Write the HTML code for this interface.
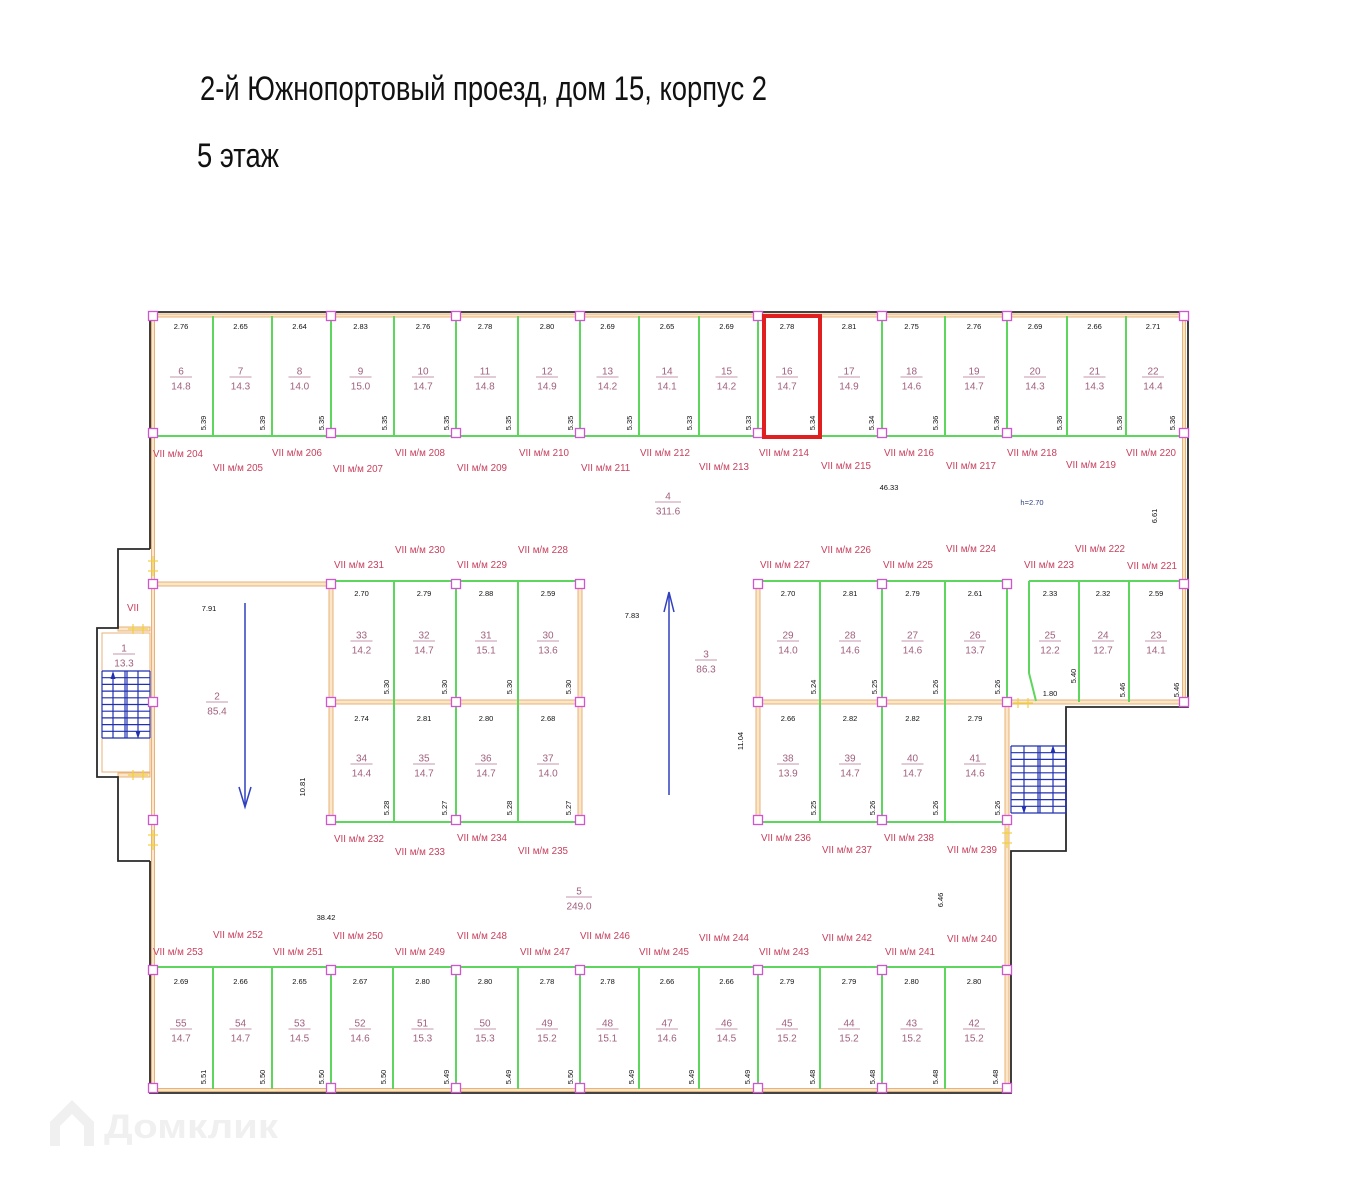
<!DOCTYPE html>
<html><head><meta charset="utf-8">
<style>
html,body{margin:0;padding:0;background:#fff;}
svg{display:block;}
.d{font-family:"Liberation Sans",sans-serif;font-size:7.5px;fill:#111;text-anchor:middle;}
.n{font-family:"Liberation Sans",sans-serif;font-size:10px;fill:#a0607e;text-anchor:middle;}
.v{font-family:"Liberation Sans",sans-serif;font-size:9.8px;fill:#c8405e;}
.u{stroke:#b07090;stroke-width:0.8;}
.g{stroke:#5cd65c;stroke-width:2;fill:none;}
.o{fill:#fce6c8;stroke:#e8b27a;stroke-width:1;}
.sq{fill:#fff;stroke:#d055d0;stroke-width:1.3;}
.k{stroke:#2a2a2a;stroke-width:1.8;fill:none;}
.b{stroke:#2030b0;stroke-width:1.2;fill:none;}
.y{stroke:#f0d040;stroke-width:1.2;}
</style></head>
<body>
<svg width="1367" height="1179" viewBox="0 0 1367 1179" xmlns="http://www.w3.org/2000/svg">
<rect width="1367" height="1179" fill="#fff"/>

<!-- titles -->
<text x="200" y="100" font-family="Liberation Sans, sans-serif" font-size="34" fill="#111" textLength="567" lengthAdjust="spacingAndGlyphs">2-й Южнопортовый проезд, дом 15, корпус 2</text>
<text x="197" y="167" font-family="Liberation Sans, sans-serif" font-size="34" fill="#111" textLength="82" lengthAdjust="spacingAndGlyphs">5 этаж</text>

<!-- watermark -->
<g fill="#f0f0f0" stroke="none">
<path d="M50 1122 L72 1100 L94 1122 L94 1146 L84 1146 L84 1126 L72 1114 L60 1126 L60 1146 L50 1146 Z"/>
<text x="104" y="1138" font-family="Liberation Sans, sans-serif" font-size="34" font-weight="bold" textLength="174" lengthAdjust="spacingAndGlyphs">Домклик</text>
</g>

<!-- orange walls -->
<rect class="o" x="151.5" y="314" width="1034" height="3"/>
<rect class="o" x="151.5" y="314" width="3" height="777"/>
<rect class="o" x="1182.5" y="314" width="3" height="390"/>
<rect class="o" x="151.5" y="1088.5" width="857" height="3"/>
<rect class="o" x="1005" y="702" width="4" height="388"/>
<rect class="o" x="153" y="582" width="178" height="4"/>
<rect class="o" x="329" y="584" width="4" height="236"/>
<rect class="o" x="331" y="700" width="249" height="4"/>
<rect class="o" x="578" y="584" width="4" height="236"/>
<rect class="o" x="756" y="584" width="4" height="236"/>
<rect class="o" x="758" y="700" width="426" height="4"/>
<rect x="102" y="633" width="48" height="139" fill="none" stroke="#e8b27a" stroke-width="1"/>
<rect class="o" x="118" y="627" width="32" height="4"/>
<rect class="o" x="118" y="773" width="32" height="4"/>

<!-- black outline -->
<polyline class="k" points="150,549 150,312 1188,312 1188,707 1066,707 1066,851 1011,851 1011,1093 150,1093 150,861"/>
<polyline class="k" points="150,549 118,549 118,628 97,628 97,777 118,777 118,861 150,861"/>

<!-- green lines top row -->
<g class="g">
<line x1="153" y1="436" x2="1184" y2="436"/>
<line x1="213" y1="316" x2="213" y2="436"/><line x1="272" y1="316" x2="272" y2="436"/>
<line x1="331" y1="316" x2="331" y2="436"/><line x1="394" y1="316" x2="394" y2="436"/>
<line x1="456" y1="316" x2="456" y2="436"/><line x1="518" y1="316" x2="518" y2="436"/>
<line x1="580" y1="316" x2="580" y2="436"/><line x1="639" y1="316" x2="639" y2="436"/>
<line x1="699" y1="316" x2="699" y2="436"/><line x1="758" y1="316" x2="758" y2="436"/>
<line x1="820" y1="316" x2="820" y2="436"/><line x1="882" y1="316" x2="882" y2="436"/>
<line x1="945" y1="316" x2="945" y2="436"/><line x1="1007" y1="316" x2="1007" y2="436"/>
<line x1="1067" y1="316" x2="1067" y2="436"/><line x1="1126" y1="316" x2="1126" y2="436"/>
<!-- block A -->
<line x1="331" y1="581" x2="580" y2="581"/><line x1="331" y1="822" x2="580" y2="822"/>
<line x1="394" y1="581" x2="394" y2="822"/><line x1="456" y1="581" x2="456" y2="822"/><line x1="518" y1="581" x2="518" y2="822"/>
<!-- block B -->
<line x1="758" y1="581" x2="1007" y2="581"/><line x1="758" y1="822" x2="1007" y2="822"/>
<line x1="820" y1="581" x2="820" y2="822"/><line x1="882" y1="581" x2="882" y2="822"/><line x1="945" y1="581" x2="945" y2="822"/>
<line x1="1007" y1="581" x2="1007" y2="702"/>
<!-- right group -->
<line x1="1029" y1="581" x2="1184" y2="581"/>
<polyline points="1029,581 1029,673 1036,701"/>
<line x1="1079" y1="581" x2="1079" y2="702"/><line x1="1129" y1="581" x2="1129" y2="702"/>
<!-- bottom row -->
<line x1="153" y1="967" x2="1007" y2="967"/>
<line x1="213" y1="967" x2="213" y2="1089"/><line x1="272" y1="967" x2="272" y2="1089"/>
<line x1="331" y1="967" x2="331" y2="1089"/><line x1="393" y1="967" x2="393" y2="1089"/>
<line x1="456" y1="967" x2="456" y2="1089"/><line x1="518" y1="967" x2="518" y2="1089"/>
<line x1="580" y1="967" x2="580" y2="1089"/><line x1="639" y1="967" x2="639" y2="1089"/>
<line x1="699" y1="967" x2="699" y2="1089"/><line x1="758" y1="967" x2="758" y2="1089"/>
<line x1="820" y1="967" x2="820" y2="1089"/><line x1="882" y1="967" x2="882" y2="1089"/>
<line x1="945" y1="967" x2="945" y2="1089"/>
</g>

<!-- stairs -->
<g class="b">
<line x1="102" y1="671" x2="150" y2="671"/><line x1="102" y1="677.7" x2="150" y2="677.7"/>
<line x1="102" y1="684.4" x2="150" y2="684.4"/><line x1="102" y1="691.1" x2="150" y2="691.1"/>
<line x1="102" y1="697.8" x2="150" y2="697.8"/><line x1="102" y1="704.5" x2="150" y2="704.5"/>
<line x1="102" y1="711.2" x2="150" y2="711.2"/><line x1="102" y1="717.9" x2="150" y2="717.9"/>
<line x1="102" y1="724.6" x2="150" y2="724.6"/><line x1="102" y1="731.3" x2="150" y2="731.3"/>
<line x1="102" y1="738" x2="150" y2="738"/>
<line x1="102" y1="671" x2="102" y2="738"/><line x1="113" y1="673" x2="113" y2="738"/>
<line x1="125" y1="671" x2="125" y2="738"/><line x1="127" y1="671" x2="127" y2="738"/>
<line x1="138" y1="671" x2="138" y2="736"/><line x1="150" y1="671" x2="150" y2="738"/>

<line x1="1011" y1="746" x2="1066" y2="746"/><line x1="1011" y1="752.7" x2="1066" y2="752.7"/>
<line x1="1011" y1="759.4" x2="1066" y2="759.4"/><line x1="1011" y1="766.1" x2="1066" y2="766.1"/>
<line x1="1011" y1="772.8" x2="1066" y2="772.8"/><line x1="1011" y1="779.5" x2="1066" y2="779.5"/>
<line x1="1011" y1="786.2" x2="1066" y2="786.2"/><line x1="1011" y1="792.9" x2="1066" y2="792.9"/>
<line x1="1011" y1="799.6" x2="1066" y2="799.6"/><line x1="1011" y1="806.3" x2="1066" y2="806.3"/>
<line x1="1011" y1="813" x2="1066" y2="813"/>
<line x1="1011" y1="746" x2="1011" y2="813"/><line x1="1024" y1="746" x2="1024" y2="811"/>
<line x1="1038" y1="746" x2="1038" y2="813"/><line x1="1040" y1="746" x2="1040" y2="813"/>
<line x1="1053" y1="748" x2="1053" y2="813"/><line x1="1066" y1="746" x2="1066" y2="813"/>
</g>
<g fill="#2030b0">
<polygon points="113,671 110.5,679 115.5,679"/>
<polygon points="138,739 135.5,731 140.5,731"/>
<polygon points="1024,814 1021.5,806 1026.5,806"/>
<polygon points="1053,745 1050.5,753 1055.5,753"/>
</g>

<!-- direction arrows -->
<g stroke="#3040c0" stroke-width="1.5" fill="none">
<line x1="245" y1="603" x2="245" y2="806"/>
<polyline points="239,787 245,807 251,787"/>
<line x1="669" y1="593" x2="669" y2="795"/>
<polyline points="664,612 669,592 674,612"/>
</g>

<!-- yellow door marks -->
<g class="y">
<line x1="153" y1="556" x2="153" y2="576"/><line x1="148" y1="561" x2="158" y2="561"/><line x1="148" y1="571" x2="158" y2="571"/>
<line x1="128" y1="629" x2="148" y2="629"/><line x1="133" y1="624" x2="133" y2="634"/><line x1="143" y1="624" x2="143" y2="634"/>
<line x1="128" y1="775" x2="148" y2="775"/><line x1="133" y1="770" x2="133" y2="780"/><line x1="143" y1="770" x2="143" y2="780"/>
<line x1="153" y1="830" x2="153" y2="850"/><line x1="148" y1="835" x2="158" y2="835"/><line x1="148" y1="845" x2="158" y2="845"/>
<line x1="1013" y1="703" x2="1033" y2="703"/><line x1="1018" y1="698" x2="1018" y2="708"/><line x1="1028" y1="698" x2="1028" y2="708"/>
<line x1="1007" y1="828" x2="1007" y2="848"/><line x1="1002" y1="833" x2="1012" y2="833"/><line x1="1002" y1="843" x2="1012" y2="843"/>
</g>

<!-- pink squares -->
<g class="sq">
<rect x="148.5" y="311.5" width="9" height="9"/><rect x="326.5" y="311.5" width="9" height="9"/><rect x="451.5" y="311.5" width="9" height="9"/><rect x="575.5" y="311.5" width="9" height="9"/><rect x="753.5" y="311.5" width="9" height="9"/><rect x="877.5" y="311.5" width="9" height="9"/><rect x="1002.5" y="311.5" width="9" height="9"/><rect x="1179.5" y="311.5" width="9" height="9"/>
<rect x="148.5" y="428.5" width="9" height="9"/><rect x="326.5" y="428.5" width="9" height="9"/><rect x="451.5" y="428.5" width="9" height="9"/><rect x="575.5" y="428.5" width="9" height="9"/><rect x="753.5" y="428.5" width="9" height="9"/><rect x="877.5" y="428.5" width="9" height="9"/><rect x="1002.5" y="428.5" width="9" height="9"/><rect x="1179.5" y="428.5" width="9" height="9"/>
<rect x="148.5" y="579.5" width="9" height="9"/><rect x="326.5" y="579.5" width="9" height="9"/><rect x="451.5" y="579.5" width="9" height="9"/><rect x="575.5" y="579.5" width="9" height="9"/><rect x="753.5" y="579.5" width="9" height="9"/><rect x="877.5" y="579.5" width="9" height="9"/><rect x="1002.5" y="579.5" width="9" height="9"/><rect x="1179.5" y="579.5" width="9" height="9"/>
<rect x="148.5" y="697.5" width="9" height="9"/><rect x="326.5" y="697.5" width="9" height="9"/><rect x="451.5" y="697.5" width="9" height="9"/><rect x="575.5" y="697.5" width="9" height="9"/><rect x="753.5" y="697.5" width="9" height="9"/><rect x="877.5" y="697.5" width="9" height="9"/><rect x="1002.5" y="697.5" width="9" height="9"/><rect x="1179.5" y="697.5" width="9" height="9"/>
<rect x="148.5" y="815.5" width="9" height="9"/><rect x="326.5" y="815.5" width="9" height="9"/><rect x="451.5" y="815.5" width="9" height="9"/><rect x="575.5" y="815.5" width="9" height="9"/><rect x="753.5" y="815.5" width="9" height="9"/><rect x="877.5" y="815.5" width="9" height="9"/><rect x="1002.5" y="815.5" width="9" height="9"/>
<rect x="148.5" y="965.5" width="9" height="9"/><rect x="326.5" y="965.5" width="9" height="9"/><rect x="451.5" y="965.5" width="9" height="9"/><rect x="575.5" y="965.5" width="9" height="9"/><rect x="753.5" y="965.5" width="9" height="9"/><rect x="877.5" y="965.5" width="9" height="9"/><rect x="1002.5" y="965.5" width="9" height="9"/>
<rect x="148.5" y="1083.5" width="9" height="9"/><rect x="326.5" y="1083.5" width="9" height="9"/><rect x="451.5" y="1083.5" width="9" height="9"/><rect x="575.5" y="1083.5" width="9" height="9"/><rect x="753.5" y="1083.5" width="9" height="9"/><rect x="877.5" y="1083.5" width="9" height="9"/><rect x="1002.5" y="1083.5" width="9" height="9"/>
</g>

<!-- TOP ROW cells -->
<g>
<text class="d" x="181" y="329">2.76</text><text class="n" x="181" y="374.5">6</text><line class="u" x1="170" y1="377" x2="192" y2="377"/><text class="n" x="181" y="389.5">14.8</text><text class="d" transform="translate(206,423) rotate(-90)">5.39</text>
<text class="d" x="240.5" y="329">2.65</text><text class="n" x="240.5" y="374.5">7</text><line class="u" x1="229.5" y1="377" x2="251.5" y2="377"/><text class="n" x="240.5" y="389.5">14.3</text><text class="d" transform="translate(265,423) rotate(-90)">5.39</text>
<text class="d" x="299.5" y="329">2.64</text><text class="n" x="299.5" y="374.5">8</text><line class="u" x1="288.5" y1="377" x2="310.5" y2="377"/><text class="n" x="299.5" y="389.5">14.0</text><text class="d" transform="translate(324,423) rotate(-90)">5.35</text>
<text class="d" x="360.5" y="329">2.83</text><text class="n" x="360.5" y="374.5">9</text><line class="u" x1="349.5" y1="377" x2="371.5" y2="377"/><text class="n" x="360.5" y="389.5">15.0</text><text class="d" transform="translate(387,423) rotate(-90)">5.35</text>
<text class="d" x="423" y="329">2.76</text><text class="n" x="423" y="374.5">10</text><line class="u" x1="412" y1="377" x2="434" y2="377"/><text class="n" x="423" y="389.5">14.7</text><text class="d" transform="translate(449,423) rotate(-90)">5.35</text>
<text class="d" x="485" y="329">2.78</text><text class="n" x="485" y="374.5">11</text><line class="u" x1="474" y1="377" x2="496" y2="377"/><text class="n" x="485" y="389.5">14.8</text><text class="d" transform="translate(511,423) rotate(-90)">5.35</text>
<text class="d" x="547" y="329">2.80</text><text class="n" x="547" y="374.5">12</text><line class="u" x1="536" y1="377" x2="558" y2="377"/><text class="n" x="547" y="389.5">14.9</text><text class="d" transform="translate(573,423) rotate(-90)">5.35</text>
<text class="d" x="607.5" y="329">2.69</text><text class="n" x="607.5" y="374.5">13</text><line class="u" x1="596.5" y1="377" x2="618.5" y2="377"/><text class="n" x="607.5" y="389.5">14.2</text><text class="d" transform="translate(632,423) rotate(-90)">5.35</text>
<text class="d" x="667" y="329">2.65</text><text class="n" x="667" y="374.5">14</text><line class="u" x1="656" y1="377" x2="678" y2="377"/><text class="n" x="667" y="389.5">14.1</text><text class="d" transform="translate(692,423) rotate(-90)">5.33</text>
<text class="d" x="726.5" y="329">2.69</text><text class="n" x="726.5" y="374.5">15</text><line class="u" x1="715.5" y1="377" x2="737.5" y2="377"/><text class="n" x="726.5" y="389.5">14.2</text><text class="d" transform="translate(751,423) rotate(-90)">5.33</text>
<text class="d" x="787" y="329">2.78</text><text class="n" x="787" y="374.5">16</text><line class="u" x1="776" y1="377" x2="798" y2="377"/><text class="n" x="787" y="389.5">14.7</text><text class="d" transform="translate(815,423) rotate(-90)">5.34</text>
<text class="d" x="849" y="329">2.81</text><text class="n" x="849" y="374.5">17</text><line class="u" x1="838" y1="377" x2="860" y2="377"/><text class="n" x="849" y="389.5">14.9</text><text class="d" transform="translate(874,423) rotate(-90)">5.34</text>
<text class="d" x="911.5" y="329">2.75</text><text class="n" x="911.5" y="374.5">18</text><line class="u" x1="900.5" y1="377" x2="922.5" y2="377"/><text class="n" x="911.5" y="389.5">14.6</text><text class="d" transform="translate(938,423) rotate(-90)">5.36</text>
<text class="d" x="974" y="329">2.76</text><text class="n" x="974" y="374.5">19</text><line class="u" x1="963" y1="377" x2="985" y2="377"/><text class="n" x="974" y="389.5">14.7</text><text class="d" transform="translate(999,423) rotate(-90)">5.36</text>
<text class="d" x="1035" y="329">2.69</text><text class="n" x="1035" y="374.5">20</text><line class="u" x1="1024" y1="377" x2="1046" y2="377"/><text class="n" x="1035" y="389.5">14.3</text><text class="d" transform="translate(1062,423) rotate(-90)">5.36</text>
<text class="d" x="1094.5" y="329">2.66</text><text class="n" x="1094.5" y="374.5">21</text><line class="u" x1="1083.5" y1="377" x2="1105.5" y2="377"/><text class="n" x="1094.5" y="389.5">14.3</text><text class="d" transform="translate(1122,423) rotate(-90)">5.36</text>
<text class="d" x="1153" y="329">2.71</text><text class="n" x="1153" y="374.5">22</text><line class="u" x1="1142" y1="377" x2="1164" y2="377"/><text class="n" x="1153" y="389.5">14.4</text><text class="d" transform="translate(1175,423) rotate(-90)">5.36</text>
</g>

<!-- red highlight -->
<rect x="764" y="316" width="56" height="121" fill="none" stroke="#e02020" stroke-width="4"/>

<!-- BLOCK A -->
<g>
<text class="d" x="361.5" y="596">2.70</text><text class="n" x="361.5" y="638.5">33</text><line class="u" x1="350.5" y1="641" x2="372.5" y2="641"/><text class="n" x="361.5" y="653.5">14.2</text><text class="d" transform="translate(389,687) rotate(-90)">5.30</text>
<text class="d" x="424" y="596">2.79</text><text class="n" x="424" y="638.5">32</text><line class="u" x1="413" y1="641" x2="435" y2="641"/><text class="n" x="424" y="653.5">14.7</text><text class="d" transform="translate(447,687) rotate(-90)">5.30</text>
<text class="d" x="486" y="596">2.88</text><text class="n" x="486" y="638.5">31</text><line class="u" x1="475" y1="641" x2="497" y2="641"/><text class="n" x="486" y="653.5">15.1</text><text class="d" transform="translate(512,687) rotate(-90)">5.30</text>
<text class="d" x="548" y="596">2.59</text><text class="n" x="548" y="638.5">30</text><line class="u" x1="537" y1="641" x2="559" y2="641"/><text class="n" x="548" y="653.5">13.6</text><text class="d" transform="translate(571,687) rotate(-90)">5.30</text>
<text class="d" x="361.5" y="721">2.74</text><text class="n" x="361.5" y="761.5">34</text><line class="u" x1="350.5" y1="764" x2="372.5" y2="764"/><text class="n" x="361.5" y="776.5">14.4</text><text class="d" transform="translate(389,808) rotate(-90)">5.28</text>
<text class="d" x="424" y="721">2.81</text><text class="n" x="424" y="761.5">35</text><line class="u" x1="413" y1="764" x2="435" y2="764"/><text class="n" x="424" y="776.5">14.7</text><text class="d" transform="translate(447,808) rotate(-90)">5.27</text>
<text class="d" x="486" y="721">2.80</text><text class="n" x="486" y="761.5">36</text><line class="u" x1="475" y1="764" x2="497" y2="764"/><text class="n" x="486" y="776.5">14.7</text><text class="d" transform="translate(512,808) rotate(-90)">5.28</text>
<text class="d" x="548" y="721">2.68</text><text class="n" x="548" y="761.5">37</text><line class="u" x1="537" y1="764" x2="559" y2="764"/><text class="n" x="548" y="776.5">14.0</text><text class="d" transform="translate(571,808) rotate(-90)">5.27</text>
</g>

<!-- BLOCK B -->
<g>
<text class="d" x="788" y="596">2.70</text><text class="n" x="788" y="638.5">29</text><line class="u" x1="777" y1="641" x2="799" y2="641"/><text class="n" x="788" y="653.5">14.0</text><text class="d" transform="translate(816,687) rotate(-90)">5.24</text>
<text class="d" x="850" y="596">2.81</text><text class="n" x="850" y="638.5">28</text><line class="u" x1="839" y1="641" x2="861" y2="641"/><text class="n" x="850" y="653.5">14.6</text><text class="d" transform="translate(877,687) rotate(-90)">5.25</text>
<text class="d" x="912.5" y="596">2.79</text><text class="n" x="912.5" y="638.5">27</text><line class="u" x1="901.5" y1="641" x2="923.5" y2="641"/><text class="n" x="912.5" y="653.5">14.6</text><text class="d" transform="translate(938,687) rotate(-90)">5.26</text>
<text class="d" x="975" y="596">2.61</text><text class="n" x="975" y="638.5">26</text><line class="u" x1="964" y1="641" x2="986" y2="641"/><text class="n" x="975" y="653.5">13.7</text><text class="d" transform="translate(1000,687) rotate(-90)">5.26</text>
<text class="d" x="788" y="721">2.66</text><text class="n" x="788" y="761.5">38</text><line class="u" x1="777" y1="764" x2="799" y2="764"/><text class="n" x="788" y="776.5">13.9</text><text class="d" transform="translate(816,808) rotate(-90)">5.25</text>
<text class="d" x="850" y="721">2.82</text><text class="n" x="850" y="761.5">39</text><line class="u" x1="839" y1="764" x2="861" y2="764"/><text class="n" x="850" y="776.5">14.7</text><text class="d" transform="translate(875,808) rotate(-90)">5.26</text>
<text class="d" x="912.5" y="721">2.82</text><text class="n" x="912.5" y="761.5">40</text><line class="u" x1="901.5" y1="764" x2="923.5" y2="764"/><text class="n" x="912.5" y="776.5">14.7</text><text class="d" transform="translate(938,808) rotate(-90)">5.26</text>
<text class="d" x="975" y="721">2.79</text><text class="n" x="975" y="761.5">41</text><line class="u" x1="964" y1="764" x2="986" y2="764"/><text class="n" x="975" y="776.5">14.6</text><text class="d" transform="translate(1000,808) rotate(-90)">5.26</text>
</g>

<!-- right group -->
<g>
<text class="d" x="1050" y="596">2.33</text><text class="n" x="1050" y="638.5">25</text><line class="u" x1="1039" y1="641" x2="1061" y2="641"/><text class="n" x="1050" y="653.5">12.2</text><text class="d" transform="translate(1076,676) rotate(-90)">5.40</text>
<text class="d" x="1050" y="696">1.80</text>
<text class="d" x="1103" y="596">2.32</text><text class="n" x="1103" y="638.5">24</text><line class="u" x1="1092" y1="641" x2="1114" y2="641"/><text class="n" x="1103" y="653.5">12.7</text><text class="d" transform="translate(1125,690) rotate(-90)">5.46</text>
<text class="d" x="1156" y="596">2.59</text><text class="n" x="1156" y="638.5">23</text><line class="u" x1="1145" y1="641" x2="1167" y2="641"/><text class="n" x="1156" y="653.5">14.1</text><text class="d" transform="translate(1179,690) rotate(-90)">5.46</text>
</g>

<!-- BOTTOM ROW -->
<g>
<text class="d" x="181" y="984">2.69</text><text class="n" x="181" y="1026.5">55</text><line class="u" x1="170" y1="1029" x2="192" y2="1029"/><text class="n" x="181" y="1041.5">14.7</text><text class="d" transform="translate(206,1077) rotate(-90)">5.51</text>
<text class="d" x="240.5" y="984">2.66</text><text class="n" x="240.5" y="1026.5">54</text><line class="u" x1="229.5" y1="1029" x2="251.5" y2="1029"/><text class="n" x="240.5" y="1041.5">14.7</text><text class="d" transform="translate(265,1077) rotate(-90)">5.50</text>
<text class="d" x="299.5" y="984">2.65</text><text class="n" x="299.5" y="1026.5">53</text><line class="u" x1="288.5" y1="1029" x2="310.5" y2="1029"/><text class="n" x="299.5" y="1041.5">14.5</text><text class="d" transform="translate(324,1077) rotate(-90)">5.50</text>
<text class="d" x="360" y="984">2.67</text><text class="n" x="360" y="1026.5">52</text><line class="u" x1="349" y1="1029" x2="371" y2="1029"/><text class="n" x="360" y="1041.5">14.6</text><text class="d" transform="translate(386,1077) rotate(-90)">5.50</text>
<text class="d" x="422.5" y="984">2.80</text><text class="n" x="422.5" y="1026.5">51</text><line class="u" x1="411.5" y1="1029" x2="433.5" y2="1029"/><text class="n" x="422.5" y="1041.5">15.3</text><text class="d" transform="translate(449,1077) rotate(-90)">5.49</text>
<text class="d" x="485" y="984">2.80</text><text class="n" x="485" y="1026.5">50</text><line class="u" x1="474" y1="1029" x2="496" y2="1029"/><text class="n" x="485" y="1041.5">15.3</text><text class="d" transform="translate(511,1077) rotate(-90)">5.49</text>
<text class="d" x="547" y="984">2.78</text><text class="n" x="547" y="1026.5">49</text><line class="u" x1="536" y1="1029" x2="558" y2="1029"/><text class="n" x="547" y="1041.5">15.2</text><text class="d" transform="translate(573,1077) rotate(-90)">5.50</text>
<text class="d" x="607.5" y="984">2.78</text><text class="n" x="607.5" y="1026.5">48</text><line class="u" x1="596.5" y1="1029" x2="618.5" y2="1029"/><text class="n" x="607.5" y="1041.5">15.1</text><text class="d" transform="translate(634,1077) rotate(-90)">5.49</text>
<text class="d" x="667" y="984">2.66</text><text class="n" x="667" y="1026.5">47</text><line class="u" x1="656" y1="1029" x2="678" y2="1029"/><text class="n" x="667" y="1041.5">14.6</text><text class="d" transform="translate(694,1077) rotate(-90)">5.49</text>
<text class="d" x="726.5" y="984">2.66</text><text class="n" x="726.5" y="1026.5">46</text><line class="u" x1="715.5" y1="1029" x2="737.5" y2="1029"/><text class="n" x="726.5" y="1041.5">14.5</text><text class="d" transform="translate(750,1077) rotate(-90)">5.49</text>
<text class="d" x="787" y="984">2.79</text><text class="n" x="787" y="1026.5">45</text><line class="u" x1="776" y1="1029" x2="798" y2="1029"/><text class="n" x="787" y="1041.5">15.2</text><text class="d" transform="translate(815,1077) rotate(-90)">5.48</text>
<text class="d" x="849" y="984">2.79</text><text class="n" x="849" y="1026.5">44</text><line class="u" x1="838" y1="1029" x2="860" y2="1029"/><text class="n" x="849" y="1041.5">15.2</text><text class="d" transform="translate(875,1077) rotate(-90)">5.48</text>
<text class="d" x="911.5" y="984">2.80</text><text class="n" x="911.5" y="1026.5">43</text><line class="u" x1="900.5" y1="1029" x2="922.5" y2="1029"/><text class="n" x="911.5" y="1041.5">15.2</text><text class="d" transform="translate(938,1077) rotate(-90)">5.48</text>
<text class="d" x="974" y="984">2.80</text><text class="n" x="974" y="1026.5">42</text><line class="u" x1="963" y1="1029" x2="985" y2="1029"/><text class="n" x="974" y="1041.5">15.2</text><text class="d" transform="translate(998,1077) rotate(-90)">5.48</text>
</g>

<!-- rooms -->
<g>
<text class="n" x="124" y="651.5">1</text><line class="u" x1="113" y1="654" x2="135" y2="654"/><text class="n" x="124" y="666.5">13.3</text>
<text class="v" x="133" y="611" text-anchor="middle">VII</text>
<text class="n" x="217" y="699.5">2</text><line class="u" x1="206" y1="702" x2="228" y2="702"/><text class="n" x="217" y="714.5">85.4</text>
<text class="n" x="706" y="657.5">3</text><line class="u" x1="695" y1="660" x2="717" y2="660"/><text class="n" x="706" y="672.5">86.3</text>
<text class="n" x="668" y="499.5">4</text><line class="u" x1="655" y1="502" x2="681" y2="502"/><text class="n" x="668" y="514.5">311.6</text>
<text class="n" x="579" y="894.5">5</text><line class="u" x1="566" y1="897" x2="592" y2="897"/><text class="n" x="579" y="909.5">249.0</text>
<text class="d" x="209" y="611">7.91</text>
<text class="d" x="632" y="618">7.83</text>
<text class="d" x="889" y="490">46.33</text>
<text class="d" x="326" y="920">38.42</text>
<text class="d" x="1032" y="505" style="fill:#304080">h=2.70</text>
<text class="d" transform="translate(1157,516) rotate(-90)">6.61</text>
<text class="d" transform="translate(305,787) rotate(-90)">10.81</text>
<text class="d" transform="translate(743,741) rotate(-90)">11.04</text>
<text class="d" transform="translate(943,900) rotate(-90)">6.46</text>
</g>

<!-- corridor labels -->
<g class="v">
<text x="153" y="457">VII м/м 204</text><text x="213" y="471">VII м/м 205</text>
<text x="272" y="456">VII м/м 206</text><text x="333" y="472">VII м/м 207</text>
<text x="395" y="456">VII м/м 208</text><text x="457" y="471">VII м/м 209</text>
<text x="519" y="456">VII м/м 210</text><text x="581" y="471">VII м/м 211</text>
<text x="640" y="456">VII м/м 212</text><text x="699" y="470">VII м/м 213</text>
<text x="759" y="456">VII м/м 214</text><text x="821" y="469">VII м/м 215</text>
<text x="884" y="456">VII м/м 216</text><text x="946" y="469">VII м/м 217</text>
<text x="1007" y="456">VII м/м 218</text><text x="1066" y="468">VII м/м 219</text>
<text x="1126" y="456">VII м/м 220</text>

<text x="395" y="553">VII м/м 230</text><text x="334" y="568">VII м/м 231</text>
<text x="457" y="568">VII м/м 229</text><text x="518" y="553">VII м/м 228</text>
<text x="760" y="568">VII м/м 227</text><text x="821" y="553">VII м/м 226</text>
<text x="883" y="568">VII м/м 225</text><text x="946" y="552">VII м/м 224</text>
<text x="1024" y="568">VII м/м 223</text><text x="1075" y="552">VII м/м 222</text>
<text x="1127" y="569">VII м/м 221</text>

<text x="334" y="842">VII м/м 232</text><text x="395" y="855">VII м/м 233</text>
<text x="457" y="841">VII м/м 234</text><text x="518" y="854">VII м/м 235</text>
<text x="761" y="841">VII м/м 236</text><text x="822" y="853">VII м/м 237</text>
<text x="884" y="841">VII м/м 238</text><text x="947" y="853">VII м/м 239</text>

<text x="213" y="938">VII м/м 252</text><text x="153" y="955">VII м/м 253</text>
<text x="333" y="939">VII м/м 250</text><text x="273" y="955">VII м/м 251</text>
<text x="457" y="939">VII м/м 248</text><text x="395" y="955">VII м/м 249</text>
<text x="580" y="939">VII м/м 246</text><text x="520" y="955">VII м/м 247</text>
<text x="699" y="941">VII м/м 244</text><text x="639" y="955">VII м/м 245</text>
<text x="822" y="941">VII м/м 242</text><text x="759" y="955">VII м/м 243</text>
<text x="947" y="942">VII м/м 240</text><text x="885" y="955">VII м/м 241</text>
</g>
</svg>
</body></html>
